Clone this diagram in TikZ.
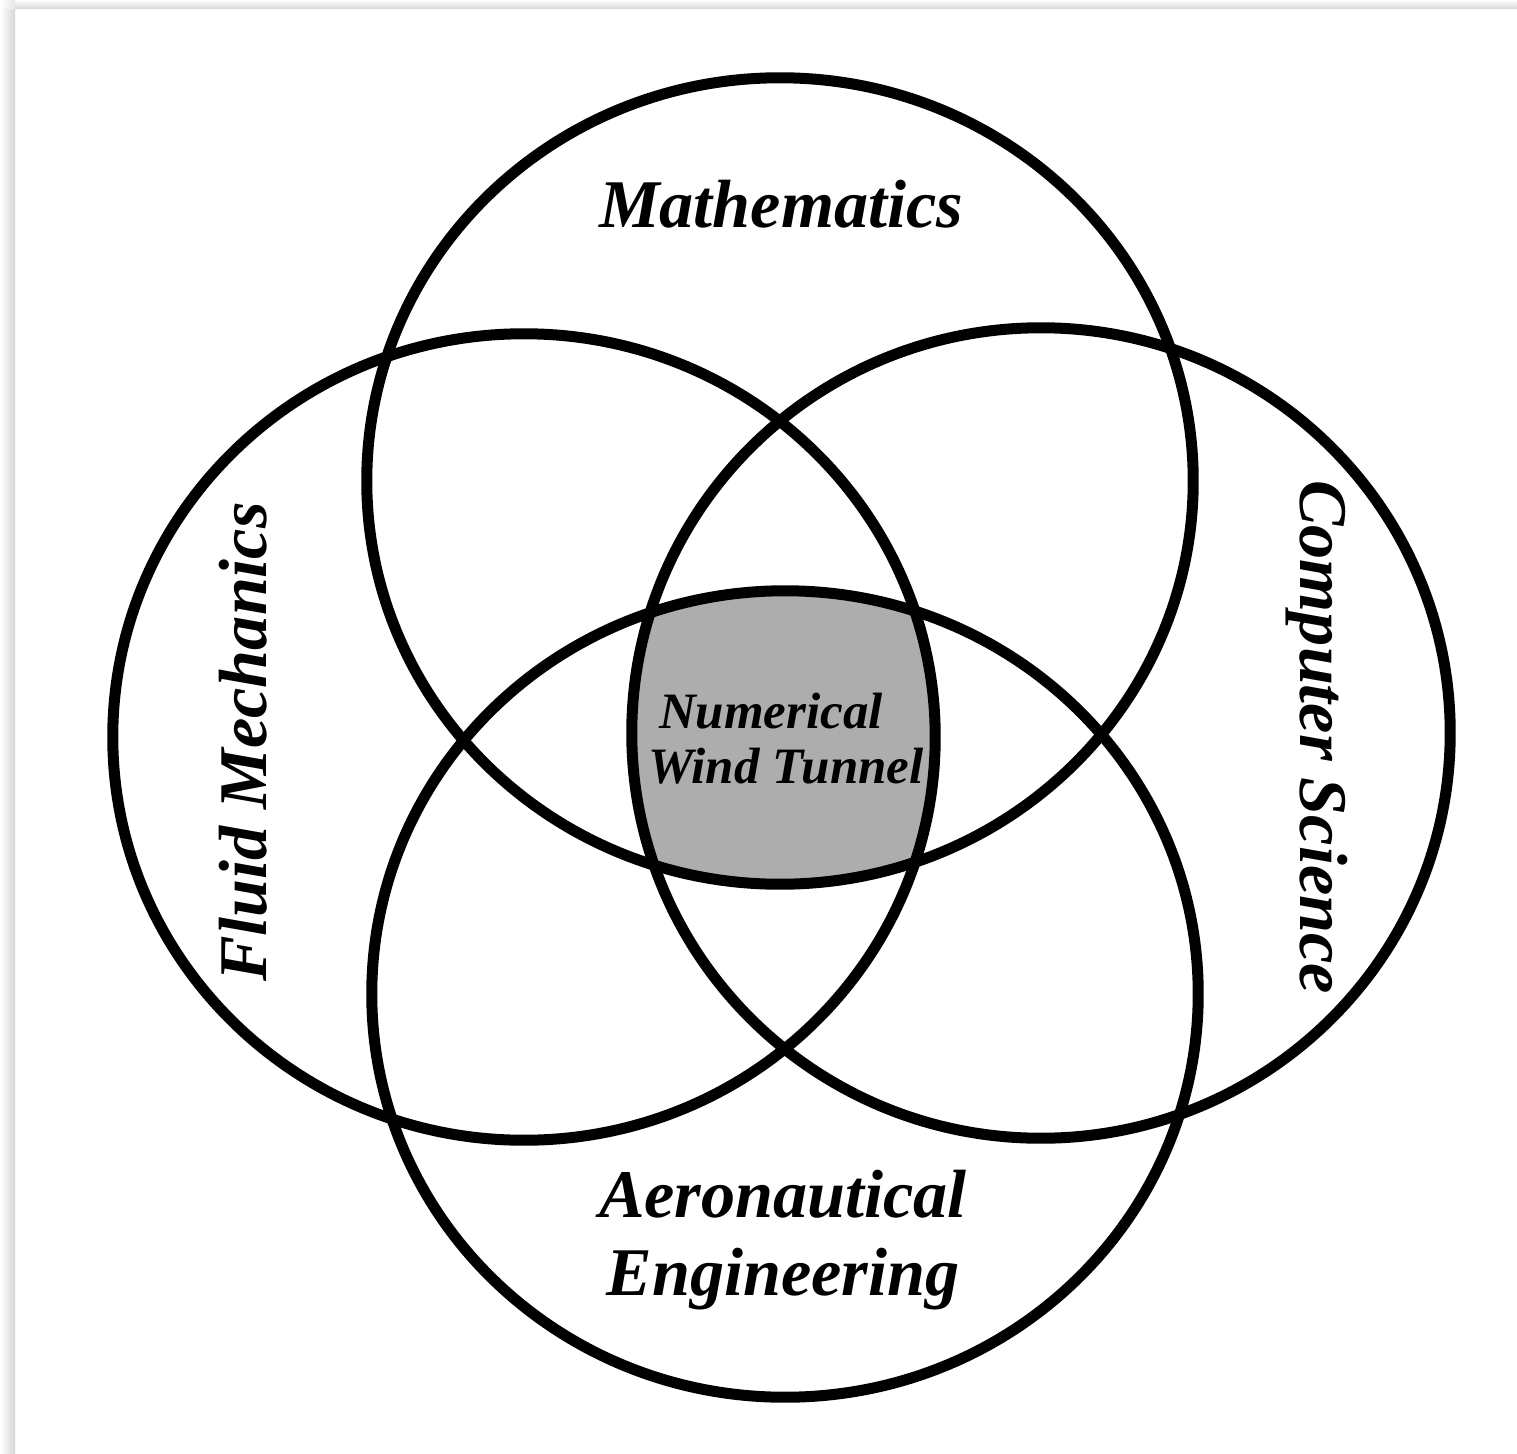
\documentclass[tikz,border=0pt]{standalone}
\usepackage{fontspec}
\setmainfont{Liberation Serif}
\begin{document}
\begin{tikzpicture}[x=0.01cm,y=-0.01cm,
  ring/.style={line width=0.11cm, draw=black},
  biglabel/.style={font=\fontsize{19.4pt}{22pt}\selectfont\bfseries\itshape, inner sep=0pt},
  smalllabel/.style={font=\fontsize{14.5pt}{16pt}\selectfont\bfseries\itshape, inner sep=0pt}]
% page and frame shadow
\useasboundingbox (0,0) rectangle (1517,1454);
\fill[white] (0,0) rectangle (1517,1454);
\shade[left color=white, right color=black!16] (0,8) rectangle (15,1454);
\shade[top color=white, bottom color=black!14] (15,0) rectangle (1517,8);
\shade[left color=white, right color=black!10] (0,0) rectangle (15,8);
% shaded common region
\begin{scope}
  \clip (780,481) ellipse [x radius=4.13cm, y radius=4.03cm];
  \clip (524,737) ellipse [x radius=4.11cm, y radius=4.03cm];
  \clip (1041,733) ellipse [x radius=4.09cm, y radius=4.05cm];
  \fill[black!32] (785,994) ellipse [x radius=4.13cm, y radius=4.03cm];
\end{scope}
% circles
\draw[ring] (780,481) ellipse [x radius=4.13cm, y radius=4.03cm];
\draw[ring] (524,737) ellipse [x radius=4.11cm, y radius=4.03cm];
\draw[ring] (1041,733) ellipse [x radius=4.09cm, y radius=4.05cm];
\draw[ring] (785,994) ellipse [x radius=4.13cm, y radius=4.03cm];
% labels
\node[biglabel, anchor=base] (math) at (781,227) {Mathematics};
\node[biglabel, anchor=base, rotate=90] (fluid) at (266,742) {Fluid Mechanics};
\node[biglabel, anchor=base, rotate=-90] (comp) at (1300,737) {Computer Science};
\node[biglabel, anchor=base] (aero1) at (783,1217) {Aeronautical};
\node[biglabel, anchor=base] (aero2) at (783,1295) {Engineering};
\node[smalllabel, anchor=base] (nwt1) at (771,728) {Numerical};
\node[smalllabel, anchor=base] (nwt2) at (786,783) {Wind Tunnel};
\end{tikzpicture}
\end{document}
